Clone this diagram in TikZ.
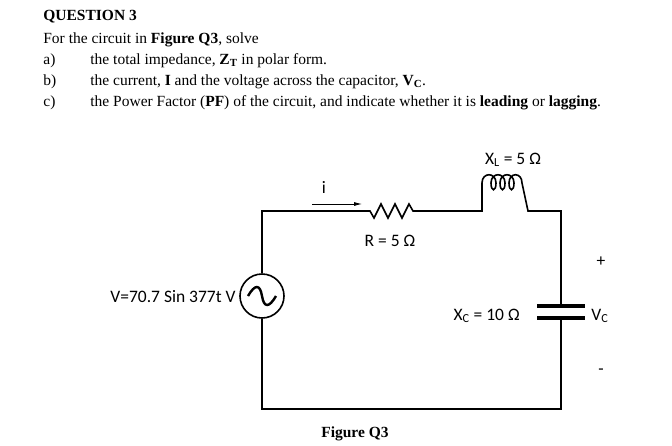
\documentclass[tikz,border=0pt]{standalone}
\usepackage{fontspec}
\setmainfont{Liberation Serif}
\newfontfamily\lblfont{Carlito}
\usetikzlibrary{arrows.meta}
\tikzset{every picture/.style={line width=0.75pt}}
\tikzset{
  wire/.style={line width=1.6pt},
  qtext/.style={anchor=base west, font=\fontsize{15.5}{17}\selectfont, inner sep=0},
  lbl/.style={font=\lblfont\fontsize{17.5}{19}\selectfont, inner sep=0}
}

\begin{document}
\begin{tikzpicture}[x=1pt, y=-1pt]
  \useasboundingbox (0,0) rectangle (672,445);

  % Question text
  \node[qtext] (title) at (43,20) {\textbf{QUESTION 3}};
  \node[qtext] (intro) at (43,43) {For the circuit in \textbf{Figure Q3}, solve};
  \node[qtext] (qa) at (43,64) {a)};
  \node[qtext] (ta) at (90,64) {the total impedance, \textbf{Z}\textsubscript{\textbf{T}} in polar form.};
  \node[qtext] (qb) at (43,85) {b)};
  \node[qtext] (tb) at (90,85) {the current, \textbf{I} and the voltage across the capacitor, \textbf{V}\textsubscript{\textbf{C}}.};
  \node[qtext] (qc) at (43,106) {c)};
  \node[qtext] (tc) at (90,106) {the Power Factor (\textbf{PF}) of the circuit, and indicate whether it is \textbf{leading} or \textbf{lagging}.};

  % Corners
  \coordinate (tl) at (262,211);
  \coordinate (tr) at (561,211);
  \coordinate (br) at (561,409);
  \coordinate (bl) at (262,409);

  % Source
  \node[draw, circle, wire, minimum size=44pt, inner sep=0] (src) at (262,296) {};
  \draw[line width=2.4pt] (248,296) .. controls (255,284) and (260,284) .. (262,296)
    .. controls (264,308) and (269,308) .. (276,296);

  % Wires
  \draw[wire] (src.north) -- (tl) -- (370,211)
    -- ++(4,7) -- ++(7,-14) -- ++(7,14) -- ++(7,-14) -- ++(7,14) -- ++(7,-14) -- ++(4,7)
    -- (482,211) -- (482,183)
    .. controls +(0,-11) and +(0,-11) .. ++(14,0) .. controls +(0,9) and +(0,9) .. ++(-5,0)
    .. controls +(0,-11) and +(0,-11) .. ++(14,0) .. controls +(0,9) and +(0,9) .. ++(-5,0)
    .. controls +(0,-11) and +(0,-11) .. ++(14,0) .. controls +(0,9) and +(0,9) .. ++(-5,0)
    .. controls +(0,-11) and +(0,-11) .. ++(13,0)
    -- (528,211) -- (tr) -- (561,306);
  \draw[line width=3.5pt] (537,306) -- (585,306);
  \draw[line width=3.5pt] (537,318) -- (585,318);
  \draw[wire] (561,318) -- (br) -- (bl) -- (src.south);

  % Current arrow
  \coordinate (ia) at (312,204);
  \coordinate (ib) at (362,204);
  \draw[-{Latex[length=8pt,width=4pt]}] (ia) -- (ib);

  % Labels
  \node[lbl] (li) at (324,187) {i};
  \node[lbl] (lr) at (390,241) {R = 5 Ω};
  \node[lbl] (ll) at (513,160) {X\textsubscript{L} = 5 Ω};
  \node[lbl] (lp) at (601,262) {+};
  \node[lbl, anchor=east] (lc) at (520,316) {X\textsubscript{C} = 10 Ω};
  \node[lbl, anchor=west] (lv) at (591,316) {V\textsubscript{C}};
  \node[lbl] (lm) at (601,372) {-};
  \node[lbl, anchor=east] (ls) at (236,297) {V=70.7 Sin 377t V};
  \node[qtext, anchor=base] (fig) at (355,437) {\textbf{Figure Q3}};
\end{tikzpicture}
\end{document}
